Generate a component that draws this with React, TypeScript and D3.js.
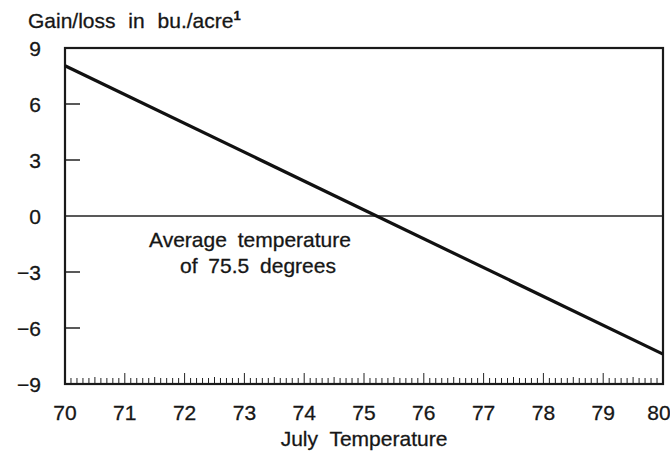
import React, { useEffect, useRef } from 'react';
import * as d3 from 'd3';

// Yield response to July temperature (linear fit)
const temps = [70, 80];
const gainLoss = [8.05, -7.4];
const yTicks = [9, 6, 3, 0, -3, -6, -9];
const xTicks = [70, 71, 72, 73, 74, 75, 76, 77, 78, 79, 80];
const noteLines = ['Average temperature', 'of 75.5 degrees'];

const App: React.FC = () => {
  const svgRef = useRef<SVGSVGElement>(null);

  useEffect(() => {
    if (!svgRef.current) return;
    const W = 670;
    const H = 456;
    const margin = { top: 48, right: 7, bottom: 72, left: 65 };
    const width = W - margin.left - margin.right;
    const height = H - margin.top - margin.bottom;

    const root = d3.select(svgRef.current);
    root.selectAll('*').remove();
    root.attr('width', W).attr('height', H);
    root.append('rect').attr('width', W).attr('height', H).attr('fill', '#fff');

    const font = '"Liberation Sans", Arial, sans-serif';
    const fs = 21;
    const ink = '#161616';
    const svg = root.append('g').attr('transform', `translate(${margin.left},${margin.top})`);

    const x = d3.scaleLinear().domain([70, 80]).range([0, width]);
    const y = d3.scaleLinear().domain([-9, 9]).range([height, 0]);

    // text helper: slightly heavier to match the printed original
    const styleText = (sel: any) =>
      sel
        .attr('font-family', font)
        .attr('font-size', fs)
        .attr('fill', ink)
        .attr('stroke', ink)
        .attr('stroke-width', 0.3);

    // minor ticks on bottom axis, 10 per degree
    const minor = d3.range(700, 801).map((d) => d / 10);
    svg
      .selectAll('.minor')
      .data(minor)
      .enter()
      .append('line')
      .attr('x1', (d) => x(d))
      .attr('x2', (d) => x(d))
      .attr('y1', height)
      .attr('y2', (d, i) => (i % 10 === 0 ? height - 11 : i % 5 === 0 ? height - 7 : height - 6))
      .attr('stroke', '#222')
      .attr('stroke-width', 1);

    // inward ticks on left axis
    svg
      .selectAll('.ytick')
      .data(yTicks.filter((d) => Math.abs(d) !== 9 && d !== 0))
      .enter()
      .append('line')
      .attr('x1', 0)
      .attr('x2', 15)
      .attr('y1', (d) => y(d))
      .attr('y2', (d) => y(d))
      .attr('stroke', '#222')
      .attr('stroke-width', 1.5);

    // zero line
    svg
      .append('line')
      .attr('x1', 0)
      .attr('x2', width)
      .attr('y1', y(0))
      .attr('y2', y(0))
      .attr('stroke', '#222')
      .attr('stroke-width', 1.6);

    // frame
    svg
      .append('rect')
      .attr('width', width)
      .attr('height', height)
      .attr('fill', 'none')
      .attr('stroke', '#1a1a1a')
      .attr('stroke-width', 2.2);

    // data line
    const line = d3
      .line<number>()
      .x((d, i) => x(temps[i]))
      .y((d) => y(d));
    svg
      .append('path')
      .datum(gainLoss)
      .attr('d', line)
      .attr('fill', 'none')
      .attr('stroke', '#111')
      .attr('stroke-width', 3.2);

    // y labels
    svg
      .selectAll('.ylab')
      .data(yTicks)
      .enter()
      .append('text')
      .attr('x', -24)
      .attr('y', (d) => y(d) + 7.5)
      .attr('text-anchor', 'end')
      .call(styleText)
      .text((d) => (d < 0 ? `\u2212${Math.abs(d)}` : `${d}`));

    // x labels
    svg
      .selectAll('.xlab')
      .data(xTicks)
      .enter()
      .append('text')
      .attr('x', (d) => x(d) + (d === 80 ? -4 : 0))
      .attr('y', height + 36)
      .attr('text-anchor', 'middle')
      .call(styleText)
      .text((d) => d);

    // axis title
    svg
      .append('text')
      .attr('x', 364 - margin.left)
      .attr('y', height + 62)
      .attr('text-anchor', 'middle')
      .call(styleText)
      .attr('word-spacing', 6)
      .text('July Temperature');

    // note
    svg
      .selectAll('.note')
      .data(noteLines)
      .enter()
      .append('text')
      .attr('x', (d, i) => (i === 0 ? 250 : 258) - margin.left)
      .attr('y', (d, i) => y(-1.65) + i * 26)
      .attr('text-anchor', 'middle')
      .call(styleText)
      .attr('word-spacing', 5)
      .text((d) => d);

    // y title
    const t = root
      .append('text')
      .attr('x', 28)
      .attr('y', 28)
      .call(styleText)
      .attr('word-spacing', 7);
    t.append('tspan').text('Gain/loss in bu./acre');
    t.append('tspan').attr('font-size', 13).attr('dy', -8).attr('font-weight', 'bold').text('1');
  }, []);

  return <svg ref={svgRef} style={{ position: 'absolute', left: 0, top: 0 }} />;
};

export default App;
